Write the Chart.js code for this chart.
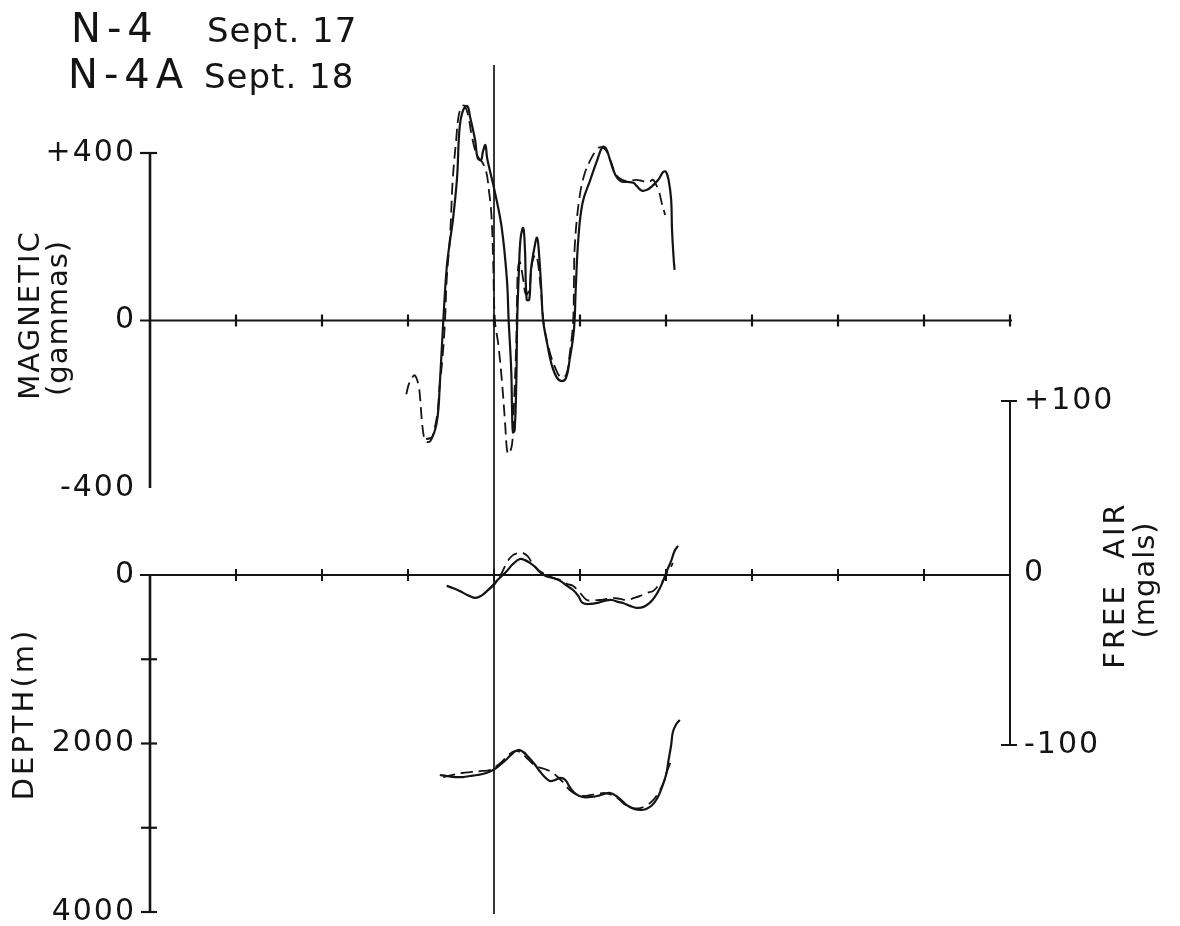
<!DOCTYPE html>
<html>
<head>
<meta charset="utf-8">
<title>N-4 / N-4A profiles</title>
<script src="https://cdn.jsdelivr.net/npm/chart.js@4.4.1/dist/chart.umd.min.js"></script>
<style>
  html, body { margin: 0; padding: 0; background: #fff; }
  #wrap { width: 1180px; height: 926px; position: relative; }
  canvas { display: block; }
</style>
</head>
<body>
<div id="wrap"><canvas id="profile" width="1180" height="926"></canvas></div>
<script>
// ---- Profile data (distance along track in profile units, 0–10) ----

// Magnetic anomaly, gammas — N-4 (Sept. 17), solid
const magN4X = [3.21, 3.28, 3.34, 3.37, 3.41, 3.45, 3.49, 3.52, 3.57, 3.60, 3.64, 3.69, 3.72, 3.78, 3.81, 3.85, 3.87, 3.90, 3.92, 3.95, 4.01, 4.09, 4.15, 4.17, 4.20, 4.21, 4.22, 4.24, 4.26, 4.27, 4.29, 4.31, 4.34, 4.36, 4.38, 4.41, 4.43, 4.47, 4.50, 4.52, 4.55, 4.57, 4.62, 4.67, 4.73, 4.79, 4.84, 4.88, 4.93, 4.95, 4.98, 5.03, 5.12, 5.20, 5.26, 5.30, 5.35, 5.41, 5.47, 5.55, 5.62, 5.66, 5.72, 5.78, 5.84, 5.91, 5.97, 6.00, 6.03, 6.06, 6.07, 6.09, 6.10];
const magN4 = [-283, -279, -236, -152, -2, 126, 193, 236, 340, 460, 502, 512, 488, 431, 388, 383, 402, 419, 388, 360, 307, 221, 98, 2, -117, -212, -267, -262, -140, 2, 121, 198, 221, 169, 50, 50, 121, 174, 198, 169, 74, 2, -57, -105, -136, -145, -136, -93, -21, 74, 193, 281, 336, 383, 414, 412, 383, 348, 333, 331, 329, 321, 310, 312, 321, 336, 355, 355, 336, 288, 217, 145, 121];

// Magnetic anomaly, gammas — N-4A (Sept. 18), dashed
const magN4AX = [2.98, 3.01, 3.05, 3.08, 3.12, 3.14, 3.16, 3.19, 3.22, 3.26, 3.29, 3.34, 3.37, 3.40, 3.43, 3.45, 3.49, 3.52, 3.56, 3.59, 3.63, 3.66, 3.70, 3.74, 3.80, 3.86, 3.91, 3.94, 3.97, 3.99, 4.01, 4.05, 4.09, 4.13, 4.15, 4.17, 4.21, 4.23, 4.26, 4.27, 4.28, 4.30, 4.34, 4.37, 4.41, 4.44, 4.48, 4.51, 4.55, 4.58, 4.64, 4.71, 4.78, 4.84, 4.88, 4.92, 4.93, 4.94, 4.99, 5.05, 5.12, 5.19, 5.24, 5.30, 5.36, 5.42, 5.49, 5.57, 5.65, 5.73, 5.80, 5.85, 5.88, 5.92, 5.95, 5.99];
const magN4A = [-176, -152, -136, -131, -152, -183, -236, -283, -290, -288, -274, -224, -152, -93, -2, 98, 205, 336, 431, 490, 512, 512, 490, 443, 395, 379, 355, 312, 252, 145, 2, -57, -140, -248, -307, -319, -295, -212, -45, 74, 126, 140, 98, 62, 74, 133, 157, 140, 62, -10, -69, -112, -136, -129, -81, -2, 98, 181, 288, 348, 383, 407, 414, 407, 379, 348, 336, 333, 336, 333, 331, 336, 326, 307, 281, 252];

// Free-air gravity, mgals — N-4 solid
const gravN4X = [3.45, 3.52, 3.60, 3.69, 3.78, 3.85, 3.92, 3.99, 4.03, 4.09, 4.15, 4.22, 4.30, 4.36, 4.42, 4.48, 4.53, 4.60, 4.69, 4.77, 4.85, 4.92, 4.98, 5.03, 5.12, 5.20, 5.28, 5.37, 5.44, 5.50, 5.58, 5.66, 5.74, 5.81, 5.87, 5.93, 5.98, 6.01, 6.06, 6.10, 6.14];
const gravN4 = [-7.5, -8.7, -10.4, -12.8, -14.5, -13.3, -10.4, -7.0, -4.6, -1.7, 1.2, 5.2, 8.1, 7.5, 5.8, 3.5, 0.6, -1.7, -2.9, -4.6, -7.5, -9.9, -13.3, -17.4, -18.0, -17.4, -16.2, -15.7, -16.8, -17.4, -19.1, -20.3, -19.7, -17.4, -13.9, -8.7, -2.9, 1.2, 7.0, 12.8, 15.7];

// Free-air gravity, mgals — N-4A dashed
const gravN4AX = [3.93, 4.01, 4.09, 4.16, 4.22, 4.28, 4.34, 4.40, 4.45, 4.53, 4.62, 4.69, 4.77, 4.85, 4.92, 5.00, 5.08, 5.16, 5.23, 5.31, 5.38, 5.47, 5.55, 5.63, 5.70, 5.78, 5.85, 5.91, 5.97, 6.01, 6.05, 6.08];
const gravN4A = [-9.9, -6.4, 0, 7.0, 10.4, 11.6, 11.6, 9.3, 5.2, 1.2, -1.2, -2.9, -4.1, -6.4, -7.5, -11.6, -15.7, -15.7, -15.7, -15.1, -14.5, -15.1, -15.7, -14.5, -13.3, -11.6, -10.4, -7.5, -4.1, 0, 2.9, 5.8];

// Water depth, metres — N-4 solid
const depthN4X = [3.37, 3.45, 3.55, 3.64, 3.72, 3.81, 3.91, 3.99, 4.07, 4.15, 4.22, 4.28, 4.34, 4.40, 4.47, 4.53, 4.59, 4.65, 4.71, 4.77, 4.83, 4.88, 4.95, 5.03, 5.12, 5.20, 5.28, 5.35, 5.42, 5.49, 5.56, 5.63, 5.70, 5.77, 5.84, 5.90, 5.95, 6.00, 6.03, 6.06, 6.08, 6.12, 6.16];
const depthN4 = [2374, 2386, 2398, 2398, 2386, 2374, 2350, 2315, 2255, 2184, 2113, 2077, 2101, 2160, 2243, 2326, 2398, 2445, 2433, 2409, 2433, 2516, 2599, 2635, 2635, 2623, 2599, 2588, 2623, 2682, 2742, 2777, 2789, 2777, 2730, 2647, 2528, 2374, 2196, 2018, 1864, 1769, 1721];

// Water depth, metres — N-4A dashed
const depthN4AX = [3.41, 3.51, 3.63, 3.74, 3.86, 3.95, 4.03, 4.10, 4.17, 4.24, 4.30, 4.37, 4.44, 4.51, 4.59, 4.67, 4.74, 4.81, 4.88, 4.97, 5.05, 5.13, 5.21, 5.29, 5.37, 5.45, 5.53, 5.62, 5.70, 5.78, 5.85, 5.91, 5.97, 6.01, 6.05];
const depthN4A = [2398, 2374, 2350, 2338, 2326, 2315, 2267, 2208, 2136, 2089, 2101, 2160, 2231, 2279, 2303, 2338, 2398, 2469, 2552, 2611, 2623, 2611, 2599, 2588, 2611, 2659, 2730, 2766, 2766, 2730, 2671, 2588, 2469, 2338, 2231];

// ---- Axis ticks and labels ----
const distTicks = [1, 2, 3, 4, 5, 6, 7, 8, 9, 10];
const magTicks = [400, 0, -400];
const magTickLabels = ['+400', '0', '-400'];
const depthTicks = [0, 1000, 2000, 3000, 4000];
const depthTickLabels = ['0', '', '2000', '', '4000'];
const gravTicks = [100, 0, -100];
const gravTickLabels = ['+100', '0', '-100'];
const crossingX = 4;          // vertical reference line through both panels
const lineNames = ['N-4', 'N-4A'];
const lineDates = ['Sept. 17', 'Sept. 18'];

// ---- Layout ----
const INK = '#141414';
const FONT = '"DejaVu Sans", "Liberation Sans", sans-serif';
const AREA = { left: 150, right: 1010, top: 65, bottom: 914 };

// Range of a linear scale that puts two anchor values at two pixel rows.
function rangeFor(vA, pA, vB, pB, reverse) {
  const k = (vB - vA) / (pB - pA);           // value per pixel (downwards)
  const atTop = vA + (AREA.top - pA) * k;
  const atBottom = vA + (AREA.bottom - pA) * k;
  return reverse ? { min: atTop, max: atBottom } : { min: atBottom, max: atTop };
}
const magRange = rangeFor(400, 153, -400, 488, false);
const gravRange = rangeFor(100, 401, -100, 745, false);
const depthRange = rangeFor(0, 575, 4000, 912, true);

const pts = (xs, ys) => xs.map((x, i) => ({ x, y: ys[i] }));

function series(label, xs, ys, axis, dashed) {
  return {
    label,
    data: pts(xs, ys),
    yAxisID: axis,
    borderColor: INK,
    borderWidth: dashed ? 1.8 : 2.2,
    borderDash: dashed ? [12, 6] : [],
    pointRadius: 0,
    fill: false,
    tension: 0.4,
    borderCapStyle: 'butt',
    borderJoinStyle: 'round'
  };
}

function seg(ctx, x1, y1, x2, y2, w) {
  ctx.lineWidth = w;
  ctx.beginPath();
  ctx.moveTo(x1, y1);
  ctx.lineTo(x2, y2);
  ctx.stroke();
}

function text(ctx, str, x, y, size, align, opts = {}) {
  ctx.save();
  ctx.font = `${opts.weight || 'normal'} ${size}px ${FONT}`;
  ctx.letterSpacing = (opts.spacing || 0) + 'px';
  ctx.textAlign = align;
  ctx.textBaseline = opts.baseline || 'middle';
  ctx.fillStyle = INK;
  if (opts.rotate) {
    ctx.translate(x, y);
    ctx.rotate(opts.rotate);
    ctx.fillText(str, 0, 0);
  } else {
    ctx.fillText(str, x, y);
  }
  ctx.restore();
}

// Axes, ticks and the reference line, drawn from the chart's own scales.
const profileFrame = {
  id: 'profileFrame',
  beforeDatasetsDraw(chart) {
    const { ctx, scales } = chart;
    const { x, mag, depth, grav } = scales;
    const x0 = x.getPixelForValue(0);
    const x10 = x.getPixelForValue(10);
    ctx.save();
    ctx.strokeStyle = INK;
    ctx.lineCap = 'butt';

    // Magnetic panel
    const mTop = mag.getPixelForValue(magTicks[0]);
    const mZero = mag.getPixelForValue(0);
    const mBot = mag.getPixelForValue(magTicks[2]);
    seg(ctx, x0, mTop, x0, mBot, 2.6);
    seg(ctx, x0 - 10, mTop, x0 + 7, mTop, 2.2);
    seg(ctx, x0 - 10, mZero, x10 + 2, mZero, 2.2);
    distTicks.forEach(d => {
      const px = x.getPixelForValue(d);
      seg(ctx, px, mZero - 6, px, mZero + 6, 2.2);
    });

    // Reference line through both panels
    const xc = x.getPixelForValue(crossingX);
    seg(ctx, xc, chart.chartArea.top, xc, chart.chartArea.bottom, 1.7);

    // Depth axis
    const dZero = depth.getPixelForValue(0);
    const dEnd = depth.getPixelForValue(depthTicks[depthTicks.length - 1]);
    seg(ctx, x0, dZero, x0, dEnd, 2.6);
    depthTicks.forEach((v, i) => {
      const py = depth.getPixelForValue(v);
      if (i === 0) return;
      seg(ctx, x0 - 9, py, x0 + 7, py, 2.2);
    });
    seg(ctx, x0 - 10, dZero, x10, dZero, 2.2);
    distTicks.slice(0, -1).forEach(d => {
      const px = x.getPixelForValue(d);
      seg(ctx, px, dZero - 6, px, dZero + 6, 2.0);
    });

    // Free-air axis on the right
    const gTop = grav.getPixelForValue(gravTicks[0]);
    const gBot = grav.getPixelForValue(gravTicks[2]);
    seg(ctx, x10, gTop, x10, gBot, 2.0);
    seg(ctx, x10 - 9, gTop, x10 + 7, gTop, 2.0);
    seg(ctx, x10 - 9, gBot, x10 + 7, gBot, 2.0);
    ctx.restore();
  },
  afterDraw(chart) {
    const { ctx, scales } = chart;
    const { x, mag, depth, grav } = scales;
    const x0 = x.getPixelForValue(0);
    const x10 = x.getPixelForValue(10);

    // Title block
    text(ctx, lineNames[0], 71, 42, 40, 'left', { baseline: 'alphabetic', spacing: 6 });
    text(ctx, lineDates[0], 207, 42, 34, 'left', { baseline: 'alphabetic', spacing: 1 });
    text(ctx, lineNames[1], 68, 88, 40, 'left', { baseline: 'alphabetic', spacing: 6 });
    text(ctx, lineDates[1], 204, 88, 34, 'left', { baseline: 'alphabetic', spacing: 1 });

    // Tick labels
    magTicks.forEach((v, i) => text(ctx, magTickLabels[i], x0 - 14, mag.getPixelForValue(v), 30, 'right', { spacing: 2 }));
    depthTicks.forEach((v, i) => {
      if (depthTickLabels[i]) text(ctx, depthTickLabels[i], x0 - 14, depth.getPixelForValue(v), 30, 'right', { spacing: 2 });
    });
    gravTicks.forEach((v, i) => text(ctx, gravTickLabels[i], x10 + 14, grav.getPixelForValue(v), 30, 'left', { spacing: 2 }));

    // Axis titles
    const up = -Math.PI / 2;
    text(ctx, 'MAGNETIC', 31, 315, 29, 'center', { rotate: up, spacing: 2 });
    text(ctx, '(gammas)', 59, 318, 29, 'center', { rotate: up, spacing: 1 });
    text(ctx, 'DEPTH(m)', 25, 714, 29, 'center', { rotate: up, spacing: 3 });
    text(ctx, 'FREE  AIR', 1116, 585, 29, 'center', { rotate: up, spacing: 3 });
    text(ctx, '(mgals)', 1146, 580, 29, 'center', { rotate: up, spacing: 1 });
  }
};

new Chart(document.getElementById('profile'), {
  type: 'line',
  data: {
    datasets: [
      series('N-4 magnetic', magN4X, magN4, 'mag', false),
      series('N-4A magnetic', magN4AX, magN4A, 'mag', true),
      series('N-4 free air', gravN4X, gravN4, 'grav', false),
      series('N-4A free air', gravN4AX, gravN4A, 'grav', true),
      series('N-4 depth', depthN4X, depthN4, 'depth', false),
      series('N-4A depth', depthN4AX, depthN4A, 'depth', true)
    ]
  },
  options: {
    responsive: false,
    animation: false,
    events: [],
    layout: {
      padding: { left: AREA.left, right: 1180 - AREA.right, top: AREA.top, bottom: 926 - AREA.bottom }
    },
    plugins: { legend: { display: false }, tooltip: { enabled: false } },
    scales: {
      x: { type: 'linear', min: 0, max: 10, display: false },
      mag: { type: 'linear', display: false, min: magRange.min, max: magRange.max },
      grav: { type: 'linear', display: false, min: gravRange.min, max: gravRange.max },
      depth: { type: 'linear', display: false, reverse: true, min: depthRange.min, max: depthRange.max }
    }
  },
  plugins: [profileFrame]
});
</script>
</body>
</html>
